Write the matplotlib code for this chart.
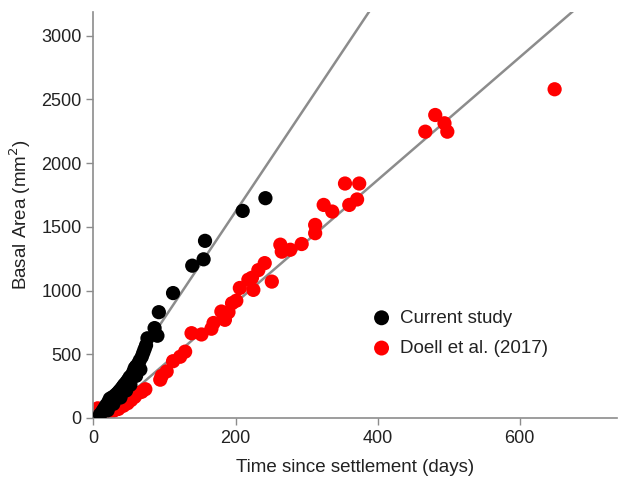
"""Basal area growth vs time since settlement: current study vs Doell et al. (2017)."""
import matplotlib
matplotlib.use("Agg")
import matplotlib.pyplot as plt
import numpy as np

plt.rcParams["font.family"] = ["Liberation Sans", "DejaVu Sans"]

# Current study (days, mm^2)
cur_days = [9, 12, 14, 16, 18, 21, 23, 26, 30, 33, 35, 37, 40, 42, 44, 47,
            49, 51, 54, 56, 58, 60, 63, 65, 68, 70, 72, 74, 76, 86, 90, 92,
            112, 139, 155, 157, 210, 242, 20, 28, 38, 46, 52, 60, 66]
cur_area = [25, 45, 63, 80, 100, 125, 150, 160, 175, 190, 200, 215, 235, 250,
            265, 285, 300, 320, 335, 360, 390, 405, 425, 450, 480, 510, 540,
            570, 625, 705, 645, 830, 980, 1195, 1245, 1390, 1625, 1725,
            60, 110, 160, 215, 260, 330, 380]

# Doell et al. (2017)
doell_days = [6, 20, 28, 35, 42, 48, 53, 58, 63, 68, 73, 94, 96, 103, 112,
              122, 129, 138, 152, 166, 169, 180, 185, 190, 195, 201, 206,
              218, 223, 225, 232, 241, 251, 263, 265, 277, 293, 312, 312,
              324, 336, 354, 360, 371, 374, 467, 481, 494, 498, 649]
doell_area = [75, 30, 55, 70, 95, 115, 140, 165, 195, 205, 225, 300, 330,
              365, 445, 480, 520, 665, 655, 700, 745, 835, 770, 830, 900,
              920, 1020, 1085, 1100, 1005, 1160, 1215, 1070, 1360, 1305,
              1320, 1365, 1450, 1515, 1672, 1620, 1840, 1672, 1715, 1840,
              2247, 2378, 2313, 2247, 2580]

# Linear fits (slope, intercept)
cur_fit = (8.35, -50)
doell_fit = (4.82, -60)

fig = plt.figure(figsize=(6.19, 4.82), dpi=100)
ax = fig.add_axes([0.151, 0.133, 0.846, 0.843])

xs = np.array([0, 740])
for slope, icpt in (cur_fit, doell_fit):
    ax.plot(xs, slope * xs + icpt, color="#8c8c8c", lw=1.8, zorder=1)

ax.scatter(cur_days, cur_area, s=105, color="black", edgecolors="none",
           zorder=3, label="Current study")
ax.scatter(doell_days, doell_area, s=105, color="#ff0000", edgecolors="none",
           zorder=2, label="Doell et al. (2017)")

ax.set_xlim(0, 737)
ax.set_ylim(0, 3190)
ax.set_xticks([0, 200, 400, 600])
ax.set_yticks(np.arange(0, 3001, 500))

ax.set_xlabel("Time since settlement (days)", fontsize=13.5, color="#222222",
              labelpad=9)
ax.set_ylabel("Basal Area (mm$^2$)", fontsize=13.5, color="#222222",
              labelpad=6)

for side in ("top", "right"):
    ax.spines[side].set_visible(False)
for side in ("left", "bottom"):
    ax.spines[side].set_color("#8c8c8c")
    ax.spines[side].set_linewidth(1.2)
ax.tick_params(colors="#8c8c8c", labelcolor="#222222", labelsize=13,
               length=5, width=1)

leg = ax.legend(loc="upper left", bbox_to_anchor=(0.5, 0.285), frameon=False,
                fontsize=13.5, handletextpad=0.0, labelspacing=0.7,
                borderaxespad=0, scatterpoints=1, markerscale=1.05)
for t in leg.get_texts():
    t.set_color("#222222")

fig.savefig("out.png", dpi=100)
